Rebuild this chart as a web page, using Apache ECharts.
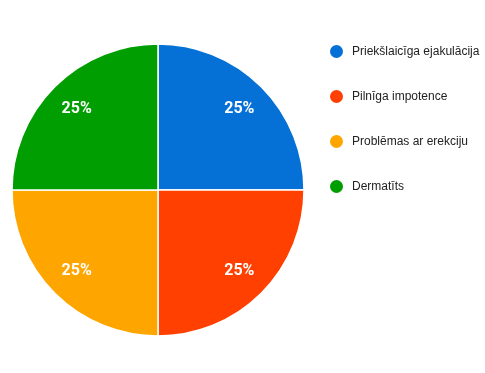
<!DOCTYPE html>
<html><head><meta charset="utf-8">
<script src="https://cdn.jsdelivr.net/npm/echarts@6/dist/echarts.min.js"></script>
<style>html,body{margin:0;padding:0;background:#fff}#c{width:485px;height:373px}</style>
</head><body><div id="c"></div>
<script>
const categories = ["Priekšlaicīga ejakulācija", "Pilnīga impotence", "Problēmas ar erekciju", "Dermatīts"];
const values = [25, 25, 25, 25];
const colors = ["#0571d6", "#ff4000", "#ffa500", "#009e00"];

const data = categories.map((n, i) => ({ name: n, value: values[i], itemStyle: { color: colors[i] } }));
const chart = echarts.init(document.getElementById('c'), null, { renderer: 'canvas' });
chart.setOption({
  animation: false,
  legend: {
    orient: 'vertical', left: 323, top: 38,
    icon: 'circle', itemWidth: 15, itemHeight: 15, itemGap: 28,
    textStyle: { fontFamily: 'Liberation Sans, Arial', fontSize: 12, color: '#222', lineHeight: 15, padding: [0, 0, 0, 3] },
    data: categories
  },
  series: [
    {
      type: 'pie', center: [158, 190], radius: [0, 146], startAngle: 90, clockwise: true,
      silent: true, label: { show: false }, labelLine: { show: false },
      itemStyle: { borderColor: '#fff', borderWidth: 1.5 },
      data: data
    },
    {
      type: 'pie', center: [158, 190], radius: [78, 146], startAngle: 90, clockwise: true,
      silent: true, legendHoverLink: false,
      itemStyle: { color: 'rgba(0,0,0,0)', borderWidth: 0 },
      label: { show: true, position: 'inside', formatter: '{d}%', color: '#fff', fontWeight: 'bold', fontSize: 16, fontFamily: 'Roboto, Arial' },
      labelLine: { show: false },
      data: categories.map((n, i) => ({ name: n + ' ', value: values[i] }))
    }
  ]
});
</script></body></html>
